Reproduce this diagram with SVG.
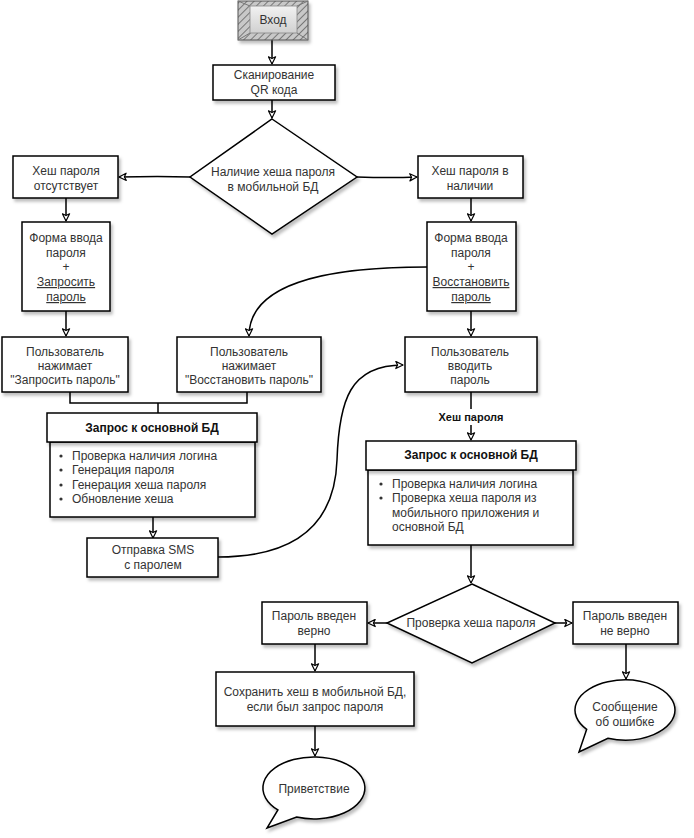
<svg xmlns="http://www.w3.org/2000/svg" width="694" height="838" viewBox="0 0 694 838">
<defs>
<filter id="sh" x="-10%" y="-10%" width="130%" height="130%"><feDropShadow dx="2" dy="3" stdDeviation="1.5" flood-color="#000" flood-opacity="0.25"/></filter>
<pattern id="hatch" width="5" height="5" patternUnits="userSpaceOnUse" patternTransform="rotate(45)"><rect width="5" height="5" fill="#c8c8c8"/><line x1="0" y1="0" x2="0" y2="5" stroke="#777" stroke-width="2"/></pattern>
<linearGradient id="btn" x1="0" y1="0" x2="0" y2="1"><stop offset="0" stop-color="#f2f2f2"/><stop offset="1" stop-color="#d0d0d0"/></linearGradient>
<marker id="arr" viewBox="0 0 10 10" refX="9" refY="5" markerWidth="9" markerHeight="9" markerUnits="userSpaceOnUse" orient="auto"><path d="M1,1 L9,5 L1,9 L3,5 Z" fill="#fff" stroke="#000" stroke-width="1.3" stroke-linejoin="round"/></marker>
<style>
.b{fill:#fff;stroke:#000;stroke-width:1.5;filter:url(#sh)}
.t{font-family:"Liberation Sans",Arial,sans-serif;font-size:12px;fill:#333;text-anchor:middle}
.l{font-family:"Liberation Sans",Arial,sans-serif;font-size:12px;fill:#333}
.h{font-family:"Liberation Sans",Arial,sans-serif;font-size:12px;font-weight:bold;fill:#111;text-anchor:middle}
.c{fill:none;stroke:#000;stroke-width:1.5}
.u{text-decoration:underline}
</style>
</defs>

<g id="connectors">
<path class="c" d="M272,40 L272,64" marker-end="url(#arr)"/>
<path class="c" d="M272,100 L272,118" marker-end="url(#arr)"/>
<path class="c" d="M190,177 Q160,176 119,177" marker-end="url(#arr)"/>
<path class="c" d="M357,177 Q390,178 417,177" marker-end="url(#arr)"/>
<path class="c" d="M66,198 L66,221" marker-end="url(#arr)"/>
<path class="c" d="M471,198 L471,221" marker-end="url(#arr)"/>
<path class="c" d="M66,311 L66,336" marker-end="url(#arr)"/>
<path class="c" d="M427,267 C320,267 249,285 249,336" marker-end="url(#arr)"/>
<path class="c" d="M471,311 L471,336" marker-end="url(#arr)"/>
<path class="c" d="M70,392 L70,403 L247,403 L247,392 M158,403 L158,413"/>
<path class="c" d="M153,517 L153,538" marker-end="url(#arr)"/>
<path class="c" d="M218,557 C300,557 335,520 337,460 C339,400 350,365 403,365" marker-end="url(#arr)"/>
<path class="c" d="M471,392 L471,440" marker-end="url(#arr)"/>
<rect x="437" y="409" width="68" height="16" fill="#fff"/>
<text class="h" x="471" y="421" style="font-size:11px">Хеш пароля</text>
<path class="c" d="M471,545 L471,583" marker-end="url(#arr)"/>
<path class="c" d="M387,623 L368,623" marker-end="url(#arr)"/>
<path class="c" d="M555,623 L572,623" marker-end="url(#arr)"/>
<path class="c" d="M315,644 L315,671" marker-end="url(#arr)"/>
<path class="c" d="M315,726 L315,756" marker-end="url(#arr)"/>
<path class="c" d="M626,644 L626,679" marker-end="url(#arr)"/>
</g>

<g id="start">
<rect x="238" y="1" width="70" height="39" fill="url(#hatch)" stroke="#555" stroke-width="1" filter="url(#sh)"/>
<path d="M238,1 L250,6 M308,1 L297,6 M238,40 L250,33 M308,40 L297,33" stroke="#777" stroke-width="1"/>
<rect x="250" y="6" width="47" height="27" fill="url(#btn)" stroke="#888" stroke-width="0.8"/>
<text class="t" x="273" y="24">Вход</text>
</g>

<g id="scan">
<rect class="b" x="213" y="65" width="122" height="35"/>
<text class="t" x="274" y="79">Сканирование</text>
<text class="t" x="274" y="94">QR кода</text>
</g>

<g id="check1">
<polygon class="b" points="272,119 357,177 272,234 190,177"/>
<text class="t" x="273" y="176">Наличие хеша пароля</text>
<text class="t" x="273" y="191">в мобильной БД</text>
</g>

<g id="nohash">
<rect class="b" x="13" y="156" width="105" height="42"/>
<text class="t" x="66" y="175">Хеш пароля</text>
<text class="t" x="66" y="190">отсутствует</text>
</g>

<g id="hashok">
<rect class="b" x="418" y="156" width="105" height="42"/>
<text class="t" x="470" y="175">Хеш пароля в</text>
<text class="t" x="470" y="190">наличии</text>
</g>

<g id="formL">
<rect class="b" x="22" y="222" width="88" height="89"/>
<text class="t" x="66" y="242">Форма ввода</text>
<text class="t" x="66" y="257">пароля</text>
<text class="t" x="66" y="271">+</text>
<text class="t u" x="66" y="286">Запросить</text>
<text class="t u" x="66" y="301">пароль</text>
</g>

<g id="formR">
<rect class="b" x="427" y="222" width="89" height="89"/>
<text class="t" x="471" y="242">Форма ввода</text>
<text class="t" x="471" y="257">пароля</text>
<text class="t" x="471" y="271">+</text>
<text class="t u" x="471" y="286">Восстановить</text>
<text class="t u" x="471" y="301">пароль</text>
</g>

<g id="pressL">
<rect class="b" x="2" y="337" width="126" height="55"/>
<text class="t" x="65" y="356">Пользователь</text>
<text class="t" x="65" y="370">нажимает</text>
<text class="t" x="65" y="384">"Запросить пароль"</text>
</g>

<g id="pressR">
<rect class="b" x="177" y="337" width="144" height="55"/>
<text class="t" x="249" y="356">Пользователь</text>
<text class="t" x="249" y="370">нажимает</text>
<text class="t" x="249" y="384">"Восстановить пароль"</text>
</g>

<g id="enter">
<rect class="b" x="405" y="337" width="132" height="55"/>
<text class="t" x="470" y="356">Пользователь</text>
<text class="t" x="470" y="370">вводить</text>
<text class="t" x="470" y="384">пароль</text>
</g>

<g id="queryL">
<rect class="b" x="50" y="442" width="205" height="75"/>
<rect class="b" x="47" y="413" width="210" height="29"/>
<text class="h" x="152" y="432">Запрос к основной БД</text>
<circle cx="61" cy="456" r="1.6" fill="#333"/>
<circle cx="61" cy="470" r="1.6" fill="#333"/>
<circle cx="61" cy="485" r="1.6" fill="#333"/>
<circle cx="61" cy="499" r="1.6" fill="#333"/>
<text class="l" x="72" y="460">Проверка наличия логина</text>
<text class="l" x="72" y="474">Генерация пароля</text>
<text class="l" x="72" y="489">Генерация хеша пароля</text>
<text class="l" x="72" y="503">Обновление хеша</text>
</g>

<g id="sms">
<rect class="b" x="87" y="538" width="131" height="39"/>
<text class="t" x="153" y="554">Отправка SMS</text>
<text class="t" x="153" y="569">с паролем</text>
</g>

<g id="queryR">
<rect class="b" x="368" y="470" width="205" height="75"/>
<rect class="b" x="366" y="441" width="210" height="29"/>
<text class="h" x="471" y="459">Запрос к основной БД</text>
<circle cx="381" cy="484" r="1.6" fill="#333"/>
<circle cx="381" cy="498" r="1.6" fill="#333"/>
<text class="l" x="392" y="488">Проверка наличия логина</text>
<text class="l" x="392" y="502">Проверка хеша пароля из</text>
<text class="l" x="392" y="517">мобильного приложения и</text>
<text class="l" x="392" y="531">основной БД</text>
</g>

<g id="check2">
<polygon class="b" points="472,584 555,623 472,663 387,623"/>
<text class="t" x="471" y="627">Проверка хеша пароля</text>
</g>

<g id="ok">
<rect class="b" x="262" y="602" width="105" height="42"/>
<text class="t" x="314" y="620">Пароль введен</text>
<text class="t" x="314" y="635">верно</text>
</g>

<g id="bad">
<rect class="b" x="573" y="602" width="105" height="42"/>
<text class="t" x="625" y="620">Пароль введен</text>
<text class="t" x="625" y="635">не верно</text>
</g>

<g id="save">
<rect class="b" x="216" y="672" width="198" height="54"/>
<text class="t" x="315" y="696">Сохранить хеш в мобильной БД,</text>
<text class="t" x="315" y="711">если был запрос пароля</text>
</g>

<g id="welcome">
<path class="b" d="M296.6,817.1 A51 31 0 1 0 277.9,809.9 L267,828 Z"/>
<text class="t" x="314" y="793">Приветствие</text>
</g>

<g id="error">
<path class="b" d="M607.9,738.2 A50 30 0 1 0 586.7,729.3 L579,752 Z"/>
<text class="t" x="625" y="711">Сообщение</text>
<text class="t" x="625" y="726">об ошибке</text>
</g>
</svg>
